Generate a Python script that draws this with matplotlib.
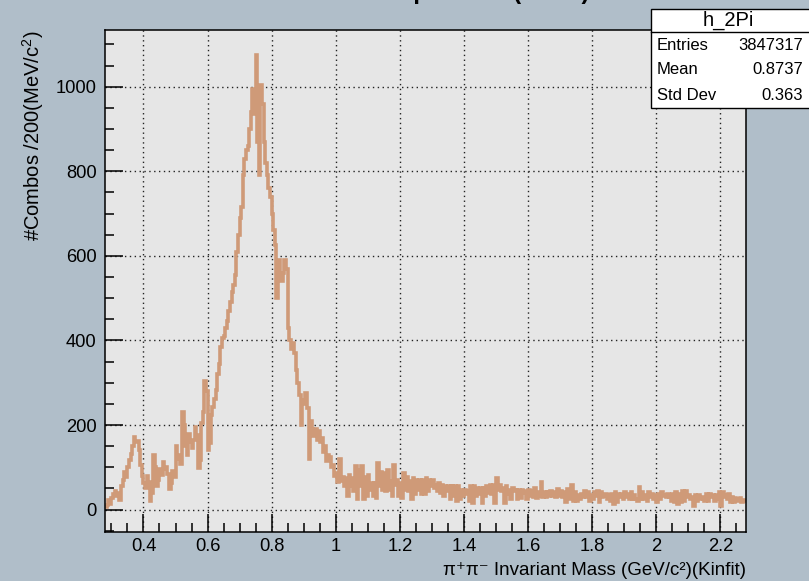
import numpy as np
import matplotlib
matplotlib.use('Agg')
import matplotlib.pyplot as plt
from matplotlib.patches import Rectangle
from matplotlib.lines import Line2D
from matplotlib.ticker import MultipleLocator

plt.rcParams['font.family'] = ['Liberation Sans', 'DejaVu Sans']
plt.rcParams['mathtext.fontset'] = 'custom'
plt.rcParams['mathtext.rm'] = 'Liberation Sans'
plt.rcParams['mathtext.it'] = 'Liberation Sans'

# pi+ pi- mass histogram, 400 bins of 5 MeV from 0.28 to 2.28 GeV
mass_lo = 0.28
mass_hi = 2.28

# 0.280 - 0.655
counts_low = [5, 12, 22, 14, 28, 36, 45, 32, 40, 22,
              55, 70, 90, 78, 100, 118, 132, 150, 172, 160,
              162, 140, 105, 80, 62, 52, 80, 66, 20, 40,
              128, 100, 56, 70, 95, 82, 112, 96, 100, 84,
              48, 62, 92, 76, 150, 128, 120, 108, 230, 200,
              150, 128, 178, 160, 145, 165, 196, 176, 98, 118,
              205, 230, 305, 280, 140, 158, 224, 242, 262, 282,
              320, 345, 385, 405, 410, 430]
# 0.660 - 0.995 (rho peak)
counts_rho = [445, 470, 490, 515, 530, 555, 610, 650, 690, 715,
              790, 830, 850, 860, 900, 940, 995, 935, 1075, 870,
              790, 1005, 960, 870, 820, 790, 760, 740, 700, 660,
              625, 500, 590, 560, 540, 560, 590, 570, 430, 400,
              380, 395, 370, 330, 300, 270, 200, 260, 250, 275,
              240, 120, 210, 190, 175, 190, 165, 185, 160, 170,
              135, 150, 115, 130, 125, 100, 105, 80]
# 1.000 - 1.605
counts_mid = [86, 65, 120, 67, 78, 55, 74, 32, 82, 55,
              74, 43, 102, 24, 94, 55, 102, 24, 78, 32,
              82, 47, 63, 32, 63, 28, 110, 55, 90, 47,
              86, 43, 94, 47, 67, 32, 106, 59, 71, 32,
              63, 28, 86, 47, 78, 43, 67, 24, 74, 36,
              71, 47, 71, 36, 71, 36, 74, 43, 71, 55,
              71, 51, 59, 43, 63, 39, 59, 32, 55, 43,
              55, 24, 55, 32, 55, 20, 55, 24, 47, 32,
              47, 36, 43, 20, 55, 16, 55, 32, 51, 36,
              51, 16, 51, 32, 55, 39, 59, 36, 59, 16,
              74, 47, 59, 43, 51, 16, 55, 36, 47, 24,
              51, 43, 47, 24, 47, 28, 47, 39, 43, 24,
              47, 32]
# 1.610 - 2.275
counts_tail = [45, 30, 50, 28,
               42, 33, 66, 29, 42, 29, 42, 33, 45, 33,
               42, 29, 49, 33, 45, 29, 42, 17, 49, 36, 25,
               57, 21, 42, 21, 34, 25, 38, 30, 45, 29,
               42, 21, 34, 25, 42, 33, 45, 17, 42, 30, 33,
               38, 25, 34, 21, 38, 14, 42, 17, 38, 29,
               38, 25, 42, 29, 38, 25, 42, 25, 34, 26, 21,
               53, 25, 42, 25, 34, 21, 42, 29, 38, 25,
               34, 17, 38, 25, 42, 33, 34, 29, 38, 30, 21,
               38, 17, 42, 13, 38, 17, 45, 21, 45, 29,
               34, 25, 30, 9, 34, 21, 34, 25, 30, 26, 21,
               38, 21, 38, 29, 34, 21, 34, 25, 42, 9,
               42, 29, 34, 25, 38, 17, 30, 17, 27, 24, 21,
               27, 17, 23, 21]

stats_name = 'h_2Pi'
stats_rows = [('Entries', '3847317'), ('Mean', '0.8737'), ('Std Dev', '0.363')]

counts = np.array(counts_low + counts_rho + counts_mid + counts_tail, dtype=float)
edges = np.linspace(mass_lo, mass_hi, len(counts) + 1)

bg = '#b0bec9'
fig = plt.figure(figsize=(8.09, 5.81), dpi=100, facecolor=bg)
ax = fig.add_axes([105 / 809, 1 - 532 / 581, (746 - 105) / 809, (532 - 30) / 581])
ax.set_facecolor('#e6e6e6')

ax.stairs(counts, edges, baseline=None, color='#cf9a78', linewidth=2.6)

ax.set_xlim(mass_lo, mass_hi)
ax.set_ylim(-53, 1134)

ax.xaxis.set_major_locator(MultipleLocator(0.2))
ax.xaxis.set_minor_locator(MultipleLocator(0.05))
ax.yaxis.set_major_locator(MultipleLocator(200))
ax.yaxis.set_minor_locator(MultipleLocator(50))
ax.xaxis.set_major_formatter(plt.FuncFormatter(lambda v, p: f'{v:g}'))

ax.tick_params(which='both', direction='in', color='black', width=1.1, labelsize=13.2)
ax.tick_params(which='major', length=13)
ax.tick_params(which='minor', length=6.5)
ax.tick_params(axis='x', pad=4)
ax.tick_params(axis='y', pad=6)
ax.grid(True, which='major', color='#222222', linestyle=(0, (1, 2.5)), linewidth=1.0)
ax.set_axisbelow(True)
for s in ax.spines.values():
    s.set_color('black')
    s.set_linewidth(1.1)

# axis titles, ROOT style: aligned to the far end of each axis
fig.text(746 / 809, 1 - 575 / 581, 'π⁺π⁻ Invariant Mass (GeV/c²)(Kinfit)',
         ha='right', va='baseline', fontsize=13.5)
fig.text(33 / 809, 1 - 30 / 581, r'#Combos /200(MeV/c$^{2}$)', rotation=90,
         ha='center', va='top', fontsize=14.5)

# histogram title sits above the canvas edge
fig.text(408 / 809, 1 + 1 / 581, 'Invariant Mass Spectrum (Kinfit)', ha='center',
         va='baseline', fontsize=17, fontweight='bold')

# stats box
x0, x1 = 651 / 809, 812 / 809
y_top, y_sep, y_bot = 1 - 9 / 581, 1 - 32 / 581, 1 - 108 / 581
fig.add_artist(Rectangle((x0, y_bot), x1 - x0, y_top - y_bot, transform=fig.transFigure,
                         facecolor='white', edgecolor='black', linewidth=1.0, zorder=10))
fig.add_artist(Line2D([x0, x1], [y_sep, y_sep], transform=fig.transFigure,
                      color='black', linewidth=1.0, zorder=11))
stat_font = ['Liberation Sans Narrow', 'Liberation Sans', 'DejaVu Sans']
fig.text(728 / 809, 1 - 20.5 / 581, stats_name, ha='center', va='center',
         fontsize=14.5, family=stat_font, zorder=12)
for i, (lab, val) in enumerate(stats_rows):
    yy = 1 - (45 + 25 * i) / 581
    fig.text(657 / 809, yy, lab, ha='left', va='center', fontsize=12, family=stat_font, zorder=12)
    fig.text(803 / 809, yy, val, ha='right', va='center', fontsize=12, family=stat_font, zorder=12)

fig.savefig('out.png', dpi=100, facecolor=bg)
